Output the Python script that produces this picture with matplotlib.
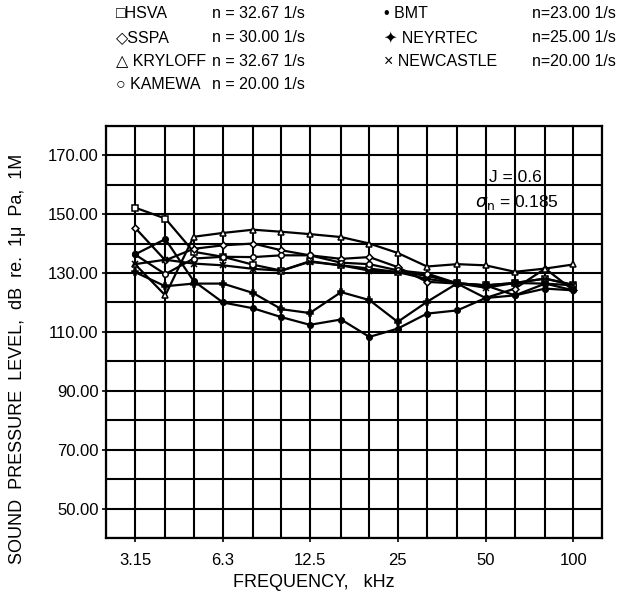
import numpy as np
import matplotlib
matplotlib.use("Agg")
import matplotlib.pyplot as plt

plt.rcParams["font.family"] = ["Liberation Sans", "DejaVu Sans"]

### third-octave centre frequencies, kHz
freqs = [3.15, 4, 5, 6.3, 8, 10, 12.5, 16, 20, 25, 31.5, 40, 50, 63, 80, 100]
grid_freqs = [2.5] + freqs + [125]
tick_freqs = [3.15, 6.3, 12.5, 25, 50, 100]
tick_labels = ["3.15", "6.3", "12.5", "25", "50", "100"]

### sound pressure level, dB re. 1 uPa, 1 m
hsva = [152.2, 148.5, 137.2, 135.5, 132.8, 130.8, 134.0, 132.6, 131.5, 130.3, 129.1, 126.5, 125.8, 126.6, 128.1, 125.8]
sspa = [145.4, 134.3, 138.2, 139.4, 140.0, 137.7, 136.0, 134.8, 135.4, 132.0, 127.0, 126.4, 121.5, 124.7, 131.5, 124.1]
kryloff = [133.0, 122.4, 142.3, 143.6, 144.7, 144.0, 143.2, 142.2, 140.0, 136.8, 132.2, 133.0, 132.6, 130.4, 131.5, 132.9]
kamewa = [136.3, 129.6, 134.9, 135.5, 135.4, 136.0, 136.0, 133.5, 133.0, 130.9, 129.8, 126.5, 125.8, 122.4, 126.4, 125.8]
bmt = [136.3, 141.5, 127.3, 120.0, 118.0, 115.0, 112.4, 114.2, 108.3, 111.1, 116.2, 117.3, 121.5, 122.4, 124.7, 124.1]
neyrtec = [130.3, 125.5, 126.4, 126.4, 123.2, 117.7, 116.4, 123.5, 120.8, 113.4, 120.2, 126.5, 125.8, 126.6, 126.4, 124.1]
newcastle = [133.0, 134.5, 133.2, 132.6, 131.4, 130.8, 133.8, 132.6, 130.8, 130.3, 128.0, 126.5, 125.0, 126.6, 128.1, 126.0]

names = ["HSVA", "SSPA", "KRYLOFF", "KAMEWA", "BMT", "NEYRTEC", "NEWCASTLE"]
speeds = ["n = 32.67 1/s", "n = 30.00 1/s", "n = 32.67 1/s", "n = 20.00 1/s",
          "n=23.00 1/s", "n=25.00 1/s", "n=20.00 1/s"]
symbols = ["\u25a1", "\u25c7", "\u25b3 ", "\u25cb ", "\u2022 ", "\u2726 ", "\u00d7 "]

fig = plt.figure(figsize=(6.34, 5.96), dpi=100)
ax = fig.add_axes([0.1667, 0.0973, 0.7825, 0.6917])

series = [hsva, sspa, kryloff, kamewa, bmt, neyrtec, newcastle]
markers = [("s", "white"), ("D", "white"), ("^", "white"), ("o", "white"),
           ("o", "black"), ("P", "black"), ("x", "black")]
for vals, (m, fc) in zip(series, markers):
    ax.plot(freqs, vals, c="black", lw=1.6, marker=m, ms=4 if m != "D" else 3.5,
            mfc=fc, mec="black", mew=1.1, zorder=3)

ax.set_xscale("log")
ax.set_xlim(2.5, 125)
ax.set_ylim(40, 180)
ax.set_xticks(tick_freqs)
ax.set_xticklabels(tick_labels)
ax.set_xticks([f for f in grid_freqs if f not in tick_freqs], minor=True)
ax.xaxis.set_minor_formatter(plt.NullFormatter())
ax.set_yticks(np.arange(50, 171, 20))
ax.set_yticklabels(["%.2f" % v for v in np.arange(50, 171, 20)])
ax.set_yticks(np.arange(40, 181, 10), minor=True)
ax.grid(True, which="both", color="black", lw=1.5)
ax.tick_params(which="major", length=3, width=1.2, labelsize=12)
ax.tick_params(axis="x", which="major", pad=8)
ax.tick_params(axis="y", which="major", pad=2)
ax.tick_params(which="minor", length=0)
for s in ax.spines.values():
    s.set_linewidth(1.6)

ax.set_xlabel("FREQUENCY,   kHz", fontsize=13)
ax.xaxis.set_label_coords(0.42, -0.088)
ax.set_ylabel("SOUND  PRESSURE  LEVEL,  dB  re.  1\u03bc  Pa,  1M", fontsize=13)
ax.yaxis.set_label_coords(-0.16, 0.435)

ax.text(63, 162.5, "J = 0.6", fontsize=12.5, ha="center", va="center", zorder=4)
ax.text(64, 154.0, "$\\sigma_\\mathrm{n}$ = 0.185", fontsize=12.5, ha="center", va="center", zorder=4)

### legend block above the axes
rows = [14, 38, 61, 85]
for i, (nm, sp, sy) in enumerate(zip(names, speeds, symbols)):
    if i < 4:
        y = 1 - rows[i] / 596
        fig.text(116 / 634, y, sy + nm, fontsize=11.5, va="center")
        fig.text(212 / 634, y, sp, fontsize=11.5, va="center")
    else:
        y = 1 - rows[i - 4] / 596
        fig.text(384 / 634, y, sy + nm, fontsize=11.5, va="center")
        fig.text(532 / 634, y, sp, fontsize=11.5, va="center")

plt.savefig("out.png", dpi=100, facecolor="white")
